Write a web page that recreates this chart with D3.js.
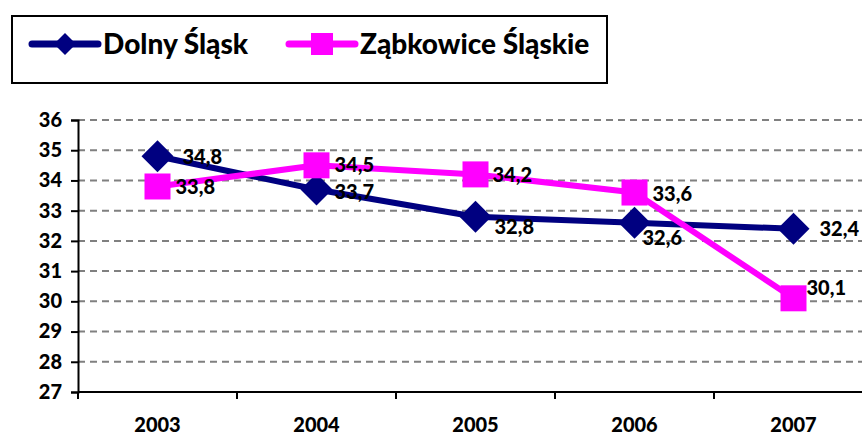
<!DOCTYPE html>
<html>
<head>
<meta charset="utf-8">
<script src="https://cdn.jsdelivr.net/npm/d3@7"></script>
<style>
  body { margin: 0; background: #fff; }
  svg { display: block; font-family: Lato, "Open Sans", sans-serif; font-weight: 900; }
</style>
</head>
<body>
<svg width="862" height="438"></svg>
<script>
// data
const years = ["2003", "2004", "2005", "2006", "2007"];
const dolnySlask = [34.8, 33.7, 32.8, 32.6, 32.4];
const zabkowice = [33.8, 34.5, 34.2, 33.6, 30.1];
const yTicks = [27, 28, 29, 30, 31, 32, 33, 34, 35, 36];
const seriesNames = ["Dolny Śląsk", "Ząbkowice Śląskie"];

// label offsets (like excel's label placement), per point
const dolnyLabelOff = [[25, 1], [18, 2], [19, 10], [8, 15], [26, 0]];
const zabkLabelOff = [[18, 1], [18, 0], [17, 1], [18, 1], [13, -10]];

const svg = d3.select("svg");
const width = 862;

const x = d3.scaleBand().domain(years).range([78, 873]);
const y = d3.scaleLinear().domain([27, 36]).range([392, 120]);
const cx = d => x(d) + x.bandwidth() / 2;

// grid lines
svg.append("g")
    .selectAll("line")
    .data(yTicks.filter(t => t > 27))
    .enter().append("line")
    .attr("x1", 78).attr("x2", width)
    .attr("y1", d => y(d)).attr("y2", d => y(d))
    .attr("stroke", "#808080")
    .attr("stroke-width", 2)
    .attr("stroke-dasharray", "7,5");

// y axis
const yAxis = svg.append("g")
    .attr("transform", "translate(78,0)")
    .call(d3.axisLeft(y).tickValues(yTicks).tickSize(7).tickPadding(9).tickFormat(d3.format("d")));
yAxis.select(".domain").attr("stroke", "#000").attr("stroke-width", 2);
yAxis.selectAll(".tick line").attr("stroke", "#000").attr("stroke-width", 2);
yAxis.selectAll("text").attr("font-size", 20).attr("font-family", "Lato, sans-serif")
    .attr("font-weight", 900).attr("fill", "#000");

// x axis line + ticks between categories
svg.append("line")
    .attr("x1", 78).attr("x2", width)
    .attr("y1", y(27)).attr("y2", y(27))
    .attr("stroke", "#000").attr("stroke-width", 2);
svg.append("g")
    .selectAll("line")
    .data(years.concat(["end"]))
    .enter().append("line")
    .attr("x1", (d, i) => 78 + i * x.bandwidth())
    .attr("x2", (d, i) => 78 + i * x.bandwidth())
    .attr("y1", y(27)).attr("y2", y(27) + 7)
    .attr("stroke", "#000").attr("stroke-width", 2);

svg.append("g")
    .selectAll("text")
    .data(years)
    .enter().append("text")
    .attr("x", d => cx(d))
    .attr("y", 432)
    .attr("text-anchor", "middle")
    .attr("font-size", 20)
    .text(d => d);

const line = d3.line().x((d, i) => cx(years[i])).y(d => y(d));

function drawSeries(values, color, shape, offs) {
    const g = svg.append("g");
    g.append("path")
        .datum(values)
        .attr("d", line)
        .attr("fill", "none")
        .attr("stroke", color)
        .attr("stroke-width", 6)
        .attr("stroke-linejoin", "round");
    g.selectAll(".m")
        .data(values)
        .enter().append("path")
        .attr("transform", (d, i) => `translate(${cx(years[i])},${y(d)})`)
        .attr("d", shape)
        .attr("fill", color);
    g.selectAll(".lbl")
        .data(values)
        .enter().append("text")
        .attr("x", (d, i) => cx(years[i]) + offs[i][0])
        .attr("y", (d, i) => y(d) + offs[i][1])
        .attr("dy", "0.35em")
        .attr("font-size", 20)
        .attr("fill", "#000")
        .text(d => String(d).replace(".", ","));
}

const diamond = "M0,-16L16,0L0,16L-16,0Z";
const square = "M-13,-13H13V13H-13Z";

drawSeries(dolnySlask, "#000080", diamond, dolnyLabelOff);
drawSeries(zabkowice, "#FF00FF", square, zabkLabelOff);

// legend
const legend = svg.append("g");
legend.append("rect")
    .attr("x", 12).attr("y", 16).attr("width", 595).attr("height", 67)
    .attr("fill", "#fff").attr("stroke", "#000").attr("stroke-width", 2);

const legendItems = [
    { name: seriesNames[0], color: "#000080", shape: "M0,-11L11,0L0,11L-11,0Z", x0: 32 },
    { name: seriesNames[1], color: "#FF00FF", shape: "M-11,-11H11V11H-11Z", x0: 289 }
];
const li = legend.selectAll(".li")
    .data(legendItems)
    .enter().append("g")
    .attr("transform", d => `translate(${d.x0},44)`);
li.append("line")
    .attr("x1", 0).attr("x2", 66)
    .attr("stroke", d => d.color)
    .attr("stroke-width", 7)
    .attr("stroke-linecap", "round");
li.append("path")
    .attr("transform", "translate(33,0)")
    .attr("d", d => d.shape)
    .attr("fill", d => d.color);
li.append("text")
    .attr("x", 71)
    .attr("dy", "0.35em")
    .attr("font-size", 28)
    .attr("fill", "#000")
    .text(d => d.name);
</script>
</body>
</html>
